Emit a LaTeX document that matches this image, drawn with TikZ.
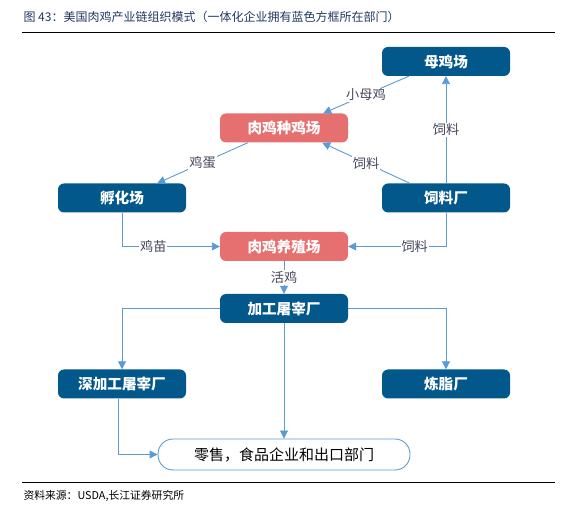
\documentclass[tikz,border=0pt]{standalone}
\usepackage{fontspec}
\setmainfont{Noto Sans CJK SC}
\usepackage{tikz}
\usetikzlibrary{arrows.meta, positioning}

\definecolor{farmblue}{HTML}{02578B}
\definecolor{farmred}{HTML}{E5706F}
\definecolor{linkblue}{HTML}{5B9BD5}
\definecolor{labelgray}{HTML}{44465E}
\definecolor{titleblue}{HTML}{1F3864}

\begin{document}
\begin{tikzpicture}[x=1pt, y=-1pt,
  dept/.style={rounded corners=6pt, fill=farmblue, text=white,
    font=\fontsize{14.6}{16}\selectfont\bfseries,
    minimum width=128pt, minimum height=29pt, inner sep=0pt},
  outside/.style={dept, fill=farmred},
  flow/.style={draw=linkblue, line width=0.9pt, -{Triangle[length=8pt, width=8pt]}},
  goods/.style={fill=white, text=labelgray, font=\fontsize{13.2}{15}\selectfont, inner sep=1pt}]
  \useasboundingbox (0,0) rectangle (568,510);

  % Title and rules
  \node[anchor=west, text=titleblue, font=\fontsize{12}{14}\selectfont] (title) at (20,17)
    {图 43：美国肉鸡产业链组织模式（一体化企业拥有蓝色方框所在部门）};
  \draw[line width=1pt] (22,33) -- (555,33);
  \draw[line width=1pt] (22,483) -- (555,483);
  \node[anchor=west, font=\fontsize{10.8}{12}\selectfont] (source) at (20,496)
    {资料来源：USDA,长江证券研究所};

  % Departments
  \node[dept] (hen) at (446,61.5) {母鸡场};
  \node[outside] (breeder) at (284,128) {肉鸡种鸡场};
  \node[dept] (feed) at (446,198) {饲料厂};
  \node[dept] (hatch) at (122,198) {孵化场};
  \node[outside] (grow) at (284,246.5) {肉鸡养殖场};
  \node[dept] (plant) at (284,308.5) {加工屠宰厂};
  \node[dept] (deep) at (122,384) {深加工屠宰厂};
  \node[dept] (render) at (446,384) {炼脂厂};
  \node[draw=linkblue, line width=0.9pt, fill=white, rounded corners=15pt,
    minimum width=252pt, minimum height=31pt, inner sep=0pt,
    font=\fontsize{15}{17}\selectfont] (retail) at (284,454.5)
    {零售，食品企业和出口部门};

  % Upper flows
  \draw[flow] ([xshift=27pt]hen.south west) -- ([xshift=-25pt]breeder.north east)
    node[goods, pos=0.5] {小母鸡};
  \draw[flow] (feed.north) -- (hen.south) node[goods, pos=0.5] {饲料};
  \draw[flow] ([xshift=28pt]feed.north west) -- ([xshift=-26pt]breeder.south east)
    node[goods, pos=0.5] {饲料};
  \draw[flow] ([xshift=28pt]breeder.south west) -- ([xshift=-29pt]hatch.north east)
    node[goods, pos=0.5] {鸡蛋};

  % Into the farm
  \draw[flow] (hatch.south) |- (grow.west) node[goods, pos=0.66] {鸡苗};
  \draw[flow] (feed.south) |- (grow.east) node[goods, pos=0.66] {饲料};
  \draw[flow] (grow.south) -- (plant.north) node[goods, pos=0.5] {活鸡};

  % Out of the plant
  \draw[flow] (plant.west) -| (deep.north);
  \draw[flow] (plant.east) -| (render.north);
  \draw[flow] (plant.south) -- (retail.north);
  \draw[flow] ([xshift=-4pt]deep.south) |- (retail.west);

\end{tikzpicture}
\end{document}
